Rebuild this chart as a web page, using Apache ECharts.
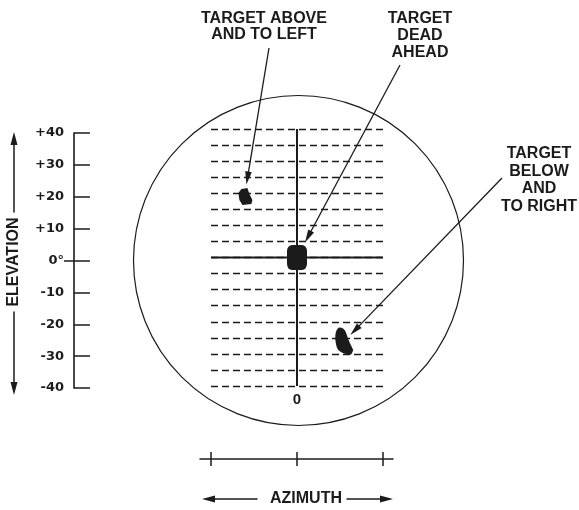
<!DOCTYPE html>
<html><head><meta charset="utf-8">
<script src="https://cdn.jsdelivr.net/npm/echarts@6/dist/echarts.min.js"></script>
<style>html,body{margin:0;padding:0;background:#fff}#c{width:579px;height:510px}</style>
</head><body><div id="c"></div>
<script>
// ---- data ----
const elevationTickValues = [-40, -30, -20, -10, 0, 10, 20, 30, 40];
const elevationTickLabels = ['-40', '-30', '-20', '-10', '0°', '+10', '+20', '+30', '+40'];
const azimuthTickValues = [-40, 0, 40];
const azimuthTickLabels = ['', '0', ''];
const targetNames = ['Target above and to left', 'Target dead ahead', 'Target below and to right'];
const targetAzimuth = [-24, 0, 22];
const targetElevation = [19, 0, -26];
const calloutTexts = ['TARGET ABOVE\nAND TO LEFT', 'TARGET\nDEAD\nAHEAD', 'TARGET\nBELOW\nAND\nTO RIGHT'];
const elevationName = 'ELEVATION';
const azimuthName = 'AZIMUTH';
const scopeLineStep = 5;

// ---- layout / style ----
const INK = '#1b1b1b';
const FONT = 'Liberation Sans';
const CALLOUT_LAYOUT = [
  { tail: [269, 48], tip: [1, -12], textX: 264, textY: 10, lh: 16.5 },
  { tail: [400, 65], tip: [8, -15], textX: 420, textY: 10.5, lh: 16.75 },
  { tail: [502, 178], tip: [6, -6], textX: 539, textY: 145, lh: 17.5 }
];
const TARGET_SYMBOLS = [
  { symbol: 'path://M3,1 L9,0 L11,6 L14,12 L13,16 L4,17 L1,12 L0,5 Z', size: [14, 17] },
  { symbol: 'roundRect', size: [20, 25] },
  { symbol: 'path://M5,0 C9,0 11,4 12,8 C13,12 16,17 18,22 L16,26 C12,26 6,25 3,21 C1,17 0,10 1,5 C2,2 3,0 5,0 Z', size: [18, 27] }
];

const hiddenAxis = (gi) => ({ type: 'value', gridIndex: gi, show: false, min: 0, max: 1 });
const arrowAxis = (gi, symbols, isX) => ({
  type: 'value', gridIndex: gi, min: 0, max: 1, position: isX ? 'bottom' : 'left',
  axisLine: { show: true, symbol: symbols, symbolSize: [7, 13], lineStyle: { color: INK, width: 1.5 } },
  axisTick: { show: false }, axisLabel: { show: false }, splitLine: { show: false }
});

const chart = echarts.init(document.getElementById('c'), null, { renderer: 'canvas' });

const option = {
  backgroundColor: '#fff',
  animation: false,
  grid: [
    { left: 74, top: 133, width: 10, height: 255, outerBoundsMode: 'none' },   // 0 elevation scale
    { left: 74, top: 133, width: 10, height: 255, outerBoundsMode: 'none' },   // 1 zero tick crossing
    { left: 211, top: 129, width: 172, height: 257, outerBoundsMode: 'none' }, // 2 scope
    { left: 200, top: 400, width: 193, height: 59, outerBoundsMode: 'none' },  // 3 azimuth scale (inside ticks)
    { left: 200, top: 400, width: 193, height: 59, outerBoundsMode: 'none' },  // 4 azimuth scale (outside ticks)
    { left: 14, top: 138.5, width: 1, height: 73.5, outerBoundsMode: 'none' }, // 5 elevation arrow upper
    { left: 14, top: 312, width: 1, height: 76.5, outerBoundsMode: 'none' },   // 6 elevation arrow lower
    { left: 208.5, top: 450, width: 48.5, height: 49, outerBoundsMode: 'none' },// 7 azimuth arrow left
    { left: 347, top: 450, width: 39.5, height: 49, outerBoundsMode: 'none' }  // 8 azimuth arrow right
  ],
  xAxis: [
    hiddenAxis(0),
    hiddenAxis(1),
    {
      type: 'value', gridIndex: 2, min: -40, max: 40, interval: 40,
      axisLine: { show: false }, axisTick: { show: false }, splitLine: { show: false },
      axisLabel: {
        margin: 6, color: INK, fontFamily: FONT, fontWeight: 'bold', fontSize: 15,
        formatter: v => { const i = azimuthTickValues.indexOf(v); return i >= 0 ? azimuthTickLabels[i] : ''; }
      }
    },
    {
      type: 'value', gridIndex: 3, min: -45, max: 45, position: 'bottom',
      axisLine: { show: true, lineStyle: { color: INK, width: 1.5 } },
      axisTick: { show: true, inside: true, length: 7, customValues: azimuthTickValues, lineStyle: { color: INK, width: 1.5 } },
      axisLabel: { show: false }, splitLine: { show: false }
    },
    {
      type: 'value', gridIndex: 4, min: -45, max: 45, position: 'bottom',
      axisLine: { show: false },
      axisTick: { show: true, inside: false, length: 7, customValues: azimuthTickValues, lineStyle: { color: INK, width: 1.5 } },
      axisLabel: { show: false }, splitLine: { show: false }
    },
    hiddenAxis(5),
    hiddenAxis(6),
    arrowAxis(7, ['triangle', 'none'], true),
    arrowAxis(8, ['none', 'triangle'], true)
  ],
  yAxis: [
    {
      type: 'value', gridIndex: 0, min: -40, max: 40, interval: 10, position: 'left',
      axisLine: { show: true, lineStyle: { color: INK, width: 1.6 } },
      axisTick: { show: true, inside: true, length: 16, lineStyle: { color: INK, width: 1.5 } },
      splitLine: { show: false },
      axisLabel: {
        margin: 10, color: INK, fontFamily: 'DejaVu Sans', fontWeight: 'bold', fontSize: 13,
        formatter: v => { const i = elevationTickValues.indexOf(v); return i >= 0 ? elevationTickLabels[i] : ''; }
      }
    },
    {
      type: 'value', gridIndex: 1, min: -40, max: 40, position: 'left',
      axisLine: { show: false },
      axisTick: { show: true, inside: false, length: 10, customValues: [0], lineStyle: { color: INK, width: 1.5 } },
      axisLabel: { show: false }, splitLine: { show: false }
    },
    {
      type: 'value', gridIndex: 2, min: -40, max: 40, interval: scopeLineStep,
      axisLine: { show: false }, axisTick: { show: false }, axisLabel: { show: false },
      splitLine: { show: true, lineStyle: { color: INK, width: 1.4, type: [7, 4] } }
    },
    hiddenAxis(3),
    hiddenAxis(4),
    arrowAxis(5, ['none', 'triangle'], false),
    arrowAxis(6, ['triangle', 'none'], false),
    hiddenAxis(7),
    hiddenAxis(8)
  ],
  graphic: [
    { type: 'text', x: 14, y: 262, rotation: Math.PI / 2, silent: true,
      style: { text: elevationName, align: 'center', verticalAlign: 'middle',
               fontFamily: FONT, fontWeight: 'bold', fontSize: 16, fill: INK } },
    { type: 'text', x: 306, y: 499, silent: true,
      style: { text: azimuthName, align: 'center', verticalAlign: 'middle',
               fontFamily: FONT, fontWeight: 'bold', fontSize: 16, fill: INK } }
  ],
  series: [
    {
      type: 'custom', xAxisIndex: 2, yAxisIndex: 2, clip: false, silent: true, z: 1,
      data: [[0, 0]],
      renderItem: (params, api) => {
        const c = api.coord([0, 0]);
        return { type: 'circle', shape: { cx: c[0] + 1.5, cy: c[1] + 3, r: 165 },
                 style: { fill: 'none', stroke: INK, lineWidth: 1.2 } };
      }
    },
    {
      type: 'line', xAxisIndex: 2, yAxisIndex: 2, symbol: 'none', silent: true, z: 2,
      lineStyle: { color: INK, width: 2 },
      data: [[-40, 0], [40, 0]]
    },
    {
      type: 'line', xAxisIndex: 2, yAxisIndex: 2, symbol: 'none', silent: true, z: 2,
      lineStyle: { color: INK, width: 2 },
      data: [[0, -40], [0, 40]]
    },
    {
      type: 'scatter', xAxisIndex: 2, yAxisIndex: 2, z: 3,
      itemStyle: { color: INK, opacity: 1 },
      data: targetAzimuth.map((a, i) => ({
        name: targetNames[i], value: [a, targetElevation[i]],
        symbol: TARGET_SYMBOLS[i].symbol, symbolSize: TARGET_SYMBOLS[i].size
      }))
    },
    {
      type: 'custom', xAxisIndex: 2, yAxisIndex: 2, clip: false, silent: true, z: 4,
      data: targetAzimuth.map((a, i) => [a, targetElevation[i]]),
      renderItem: (params, api) => {
        const L = CALLOUT_LAYOUT[params.dataIndex];
        const c = api.coord([api.value(0), api.value(1)]);
        const tip = [c[0] + L.tip[0], c[1] + L.tip[1]];
        const t = L.tail;
        const dx = tip[0] - t[0], dy = tip[1] - t[1];
        const len = Math.sqrt(dx * dx + dy * dy);
        const ux = dx / len, uy = dy / len;
        const headLen = 13, headW = 3.3;
        const bx = tip[0] - ux * headLen, by = tip[1] - uy * headLen;
        return {
          type: 'group',
          children: [
            { type: 'line', shape: { x1: t[0], y1: t[1], x2: bx + ux * 2, y2: by + uy * 2 },
              style: { stroke: INK, lineWidth: 1.3 } },
            { type: 'polygon', shape: { points: [tip, [bx - uy * headW, by + ux * headW], [bx + uy * headW, by - ux * headW]] },
              style: { fill: INK } },
            { type: 'text', style: {
                text: calloutTexts[params.dataIndex], x: L.textX, y: L.textY,
                align: 'center', verticalAlign: 'top', lineHeight: L.lh,
                fontFamily: FONT, fontWeight: 'bold', fontSize: 16, fill: INK } }
          ]
        };
      }
    }
  ]
};
chart.setOption(option);
</script>
</body></html>
